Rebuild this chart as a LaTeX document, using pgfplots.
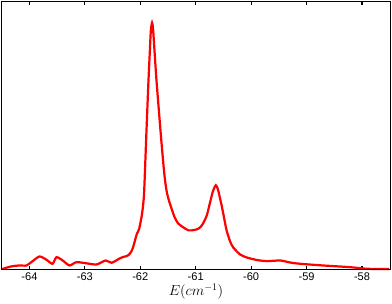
\documentclass[border=1pt]{standalone}
\usepackage{fontspec}
\setmainfont{Liberation Sans}
\usepackage{pgfplots}
\pgfplotsset{compat=1.18}
\begin{document}
\begin{tikzpicture}
\begin{axis}[
  scale only axis,
  width=386pt, height=266pt,
  xmin=-64.5, xmax=-57.49,
  ymin=0, ymax=267,
  xtick={-64,-63,-62,-61,-60,-59,-58},
  ytick=\empty,
  tick align=inside,
  xtick pos=both,
  major tick length=3.5pt,
  axis line style={draw=black, line width=1.4pt},
  every tick/.style={draw=black, line width=1.2pt},
  ticklabel style={font=\fontsize{11}{13}\selectfont},
  /pgf/number format/assume math mode=true,
  xlabel={$E(cm^{-1})$},
  xlabel style={font=\Large, yshift=4pt},
  clip=false,
]
\addplot[red, line width=2.2pt, smooth, tension=0.4] coordinates {
(-64.49,0.5) (-64.40,2) (-64.307,3.3) (-64.18,4) (-64.054,4) (-63.95,8) (-63.819,13) (-63.70,10) (-63.584,5.7)
(-63.512,12.3) (-63.40,9) (-63.277,4) (-63.150,7.3) (-62.95,6) (-62.788,5) (-62.626,9)
(-62.517,6.7) (-62.373,11) (-62.318,12.3) (-62.22,14) (-62.161,18) (-62.12,24) (-62.065,35) (-62.023,40)
(-61.97,55) (-61.933,75) (-61.890,136) (-61.855,185) (-61.83,215) (-61.81,238) (-61.788,246) (-61.77,240)
(-61.74,215) (-61.710,190) (-61.680,169) (-61.635,138) (-61.590,109) (-61.560,92) (-61.528,79) (-61.49,70) (-61.438,61)
(-61.38,52) (-61.318,46) (-61.25,43) (-61.197,41) (-61.13,39) (-61.076,39) (-60.98,40) (-60.92,42)
(-60.866,46) (-60.80,54) (-60.745,66) (-60.69,78) (-60.637,84) (-60.60,80) (-60.57,73)
(-60.533,64) (-60.49,52) (-60.443,39) (-60.38,28) (-60.324,22) (-60.20,15) (-60.081,12)
(-59.90,9.5) (-59.714,8.3) (-59.479,9) (-59.30,7) (-59.117,5.7) (-58.70,4) (-58.213,2.3)
(-57.906,0.7) (-57.51,0.5)
};
\addplot[black, line width=1.4pt, line cap=rect, mark=none] coordinates {
(-64.5,0) (-57.49,0) (-57.49,267) (-64.5,267) (-64.5,0)
};
\end{axis}
\end{tikzpicture}
\end{document}
